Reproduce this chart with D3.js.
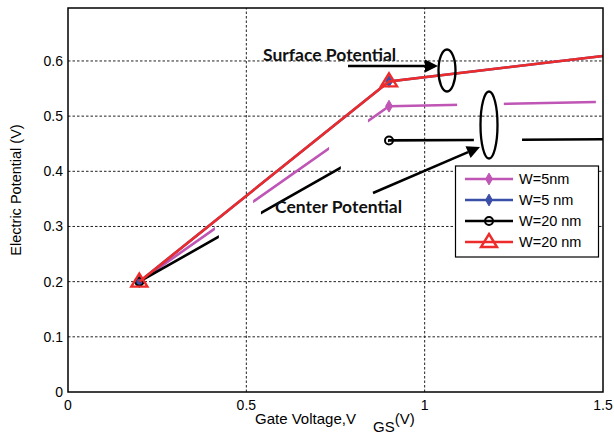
<!DOCTYPE html>
<html><head><meta charset="utf-8">
<script src="https://cdn.jsdelivr.net/npm/d3@7"></script>
<style>body{margin:0;background:#fff}svg{display:block}</style>
</head><body>
<script>
// ---- data ----
const xTicks = [0, 0.5, 1, 1.5];
const yTicks = [0, 0.1, 0.2, 0.3, 0.4, 0.5, 0.6];
const vgs = [0.2, 0.9, 1.5];
const w5Center = [0.2, 0.518, 0.526];    // magenta
const w5Surface = [0.2, 0.563, 0.609];   // blue
const w20Center = [0.2, 0.456, 0.458];   // black
const w20Surface = [0.2, 0.563, 0.609];  // red
const w5CenterVisible = [[0.2, 0.412], [0.519, 0.732], [0.841, 1.091], [1.222, 1.48]];
const w20CenterVisible = [[0.2, 0.423], [0.541, 0.765], [0.897, 1.138], [1.273, 1.5]];
const legendLabels = ["W=5nm", "W=5 nm", "W=20 nm", "W=20 nm"];

const W = 614, H = 437;
const svg = d3.select("body").append("svg").attr("width", W).attr("height", H);
const x = d3.scaleLinear([0, 1.5], [68, 603]);
const y = d3.scaleLinear([0, 0.696], [392, 8]);
const font = "'Liberation Sans', Arial, sans-serif";

// grid
svg.append("g").selectAll("line").data(yTicks.filter(d => d > 0)).join("line")
  .attr("x1", x(0)).attr("x2", x(1.5)).attr("y1", d => y(d)).attr("y2", d => y(d))
  .attr("stroke", "#222").attr("stroke-width", 1).attr("stroke-dasharray", "2.5,2");
svg.append("g").selectAll("line").data(xTicks.filter(d => d > 0 && d < 1.5)).join("line")
  .attr("y1", y(0)).attr("y2", 8).attr("x1", d => x(d)).attr("x2", d => x(d))
  .attr("stroke", "#222").attr("stroke-width", 1).attr("stroke-dasharray", "2.5,2");

// tick labels
svg.append("g").selectAll("text").data(xTicks).join("text")
  .attr("x", d => x(d)).attr("y", 410).attr("text-anchor", "middle")
  .attr("font-family", font).attr("font-size", 14).text(d => d);
svg.append("g").selectAll("text").data(yTicks).join("text")
  .attr("x", 63).attr("y", d => y(d) + 5).attr("text-anchor", "end")
  .attr("font-family", font).attr("font-size", 14).text(d => d);

// axis labels
svg.append("text").attr("transform", "translate(21,190) rotate(-90)")
  .attr("text-anchor", "middle").attr("font-family", font).attr("font-size", 14.5)
  .text("Electric Potential (V)");
const xl = svg.append("text").attr("x", 255).attr("y", 424).attr("font-family", font).attr("font-size", 15);
xl.append("tspan").text("Gate Voltage,V");
xl.append("tspan").attr("x", 373).attr("y", 432).text("GS");
xl.append("tspan").attr("y", 424).text("(V)");

const line = d3.line().x(d => x(d[0])).y(d => y(d[1]));
const defs = svg.append("defs");
function clipFor(id, ranges) {
  const cp = defs.append("clipPath").attr("id", id);
  ranges.forEach(r => cp.append("rect").attr("x", x(r[0])).attr("width", x(r[1]) - x(r[0]))
    .attr("y", 0).attr("height", H));
  return `url(#${id})`;
}
const plotClip = clipFor("plotclip", [[0, 1.5]]);

const diamond = d3.symbol().type(d3.symbolDiamond).size(40);
function drawSeries(vals, color, clip, marker) {
  const pts = vgs.map((v, i) => [v, vals[i]]);
  svg.append("path").attr("d", line(pts)).attr("fill", "none").attr("stroke", color)
    .attr("stroke-width", 2.6).attr("clip-path", clip);
  const mk = pts.filter(p => p[0] < 1.5);
  mk.forEach(p => marker(svg, x(p[0]), y(p[1])));
}
const mkDiamond = color => (g, cx, cy) => g.append("path").attr("d", diamond())
  .attr("transform", `translate(${cx},${cy})`).attr("fill", color).attr("stroke", color).attr("stroke-width", 1);
const mkCircle = (g, cx, cy) => g.append("circle").attr("cx", cx).attr("cy", cy).attr("r", 4)
  .attr("fill", "none").attr("stroke", "#000").attr("stroke-width", 2);
const mkTri = (g, cx, cy) => g.append("path")
  .attr("d", `M${cx},${cy - 8}L${cx + 8},${cy + 5}L${cx - 8},${cy + 5}Z`)
  .attr("fill", "none").attr("stroke", "#ee2b2b").attr("stroke-width", 2.4);

const colors = ["#bf55b5", "#3a4fa8", "#000000", "#ee2b2b"];
drawSeries(w5Center, colors[0], clipFor("c0", w5CenterVisible), mkDiamond(colors[0]));
drawSeries(w5Surface, colors[1], plotClip, mkDiamond(colors[1]));
drawSeries(w20Center, colors[2], clipFor("c2", w20CenterVisible), mkCircle);
drawSeries(w20Surface, colors[3], plotClip, mkTri);

// frame
svg.append("rect").attr("x", x(0)).attr("y", 8).attr("width", x(1.5) - x(0)).attr("height", y(0) - 8)
  .attr("fill", "none").attr("stroke", "#000").attr("stroke-width", 1.5);

// annotations
const afont = "Lato, 'Open Sans', sans-serif";
svg.append("text").attr("x", 263).attr("y", 61).attr("font-family", afont).attr("font-weight", "bold")
  .attr("font-size", 17.5).attr("fill", "#111").text("Surface Potential");
svg.append("text").attr("x", 275).attr("y", 213).attr("font-family", afont).attr("font-weight", "bold")
  .attr("font-size", 17.5).attr("fill", "#111").text("Center Potential");
function arrow(x1, y1, x2, y2) {
  const a = Math.atan2(y2 - y1, x2 - x1), L = 13, hw = 6.5;
  const bx = x2 - L * Math.cos(a), by = y2 - L * Math.sin(a);
  svg.append("line").attr("x1", x1).attr("y1", y1).attr("x2", bx).attr("y2", by)
    .attr("stroke", "#000").attr("stroke-width", 2.5);
  svg.append("path").attr("d", `M${x2},${y2}L${bx - hw * Math.sin(a)},${by + hw * Math.cos(a)}L${bx + hw * Math.sin(a)},${by - hw * Math.cos(a)}Z`)
    .attr("fill", "#000");
}
arrow(348, 66, 438, 66);
arrow(373, 193, 480, 147);
svg.append("ellipse").attr("cx", 447).attr("cy", 70.5).attr("rx", 8.5).attr("ry", 21)
  .attr("fill", "none").attr("stroke", "#000").attr("stroke-width", 2.3);
svg.append("ellipse").attr("cx", 489).attr("cy", 125).attr("rx", 8.5).attr("ry", 33.5)
  .attr("fill", "none").attr("stroke", "#000").attr("stroke-width", 2.3);

// legend
const lg = svg.append("g");
lg.append("rect").attr("x", 455.5).attr("y", 166).attr("width", 143).attr("height", 91)
  .attr("fill", "#fff").attr("stroke", "#000").attr("stroke-width", 1.2);
const markers = [mkDiamond(colors[0]), mkDiamond(colors[1]), mkCircle, mkTri];
legendLabels.forEach((lab, i) => {
  const ly = 179 + i * 21;
  lg.append("line").attr("x1", 465).attr("x2", 513).attr("y1", ly).attr("y2", ly)
    .attr("stroke", colors[i]).attr("stroke-width", 2.6);
  markers[i](lg, 489, ly);
  lg.append("text").attr("x", 519).attr("y", ly + 5).attr("font-family", font).attr("font-size", 14.5).text(lab);
});
</script>
</body></html>
